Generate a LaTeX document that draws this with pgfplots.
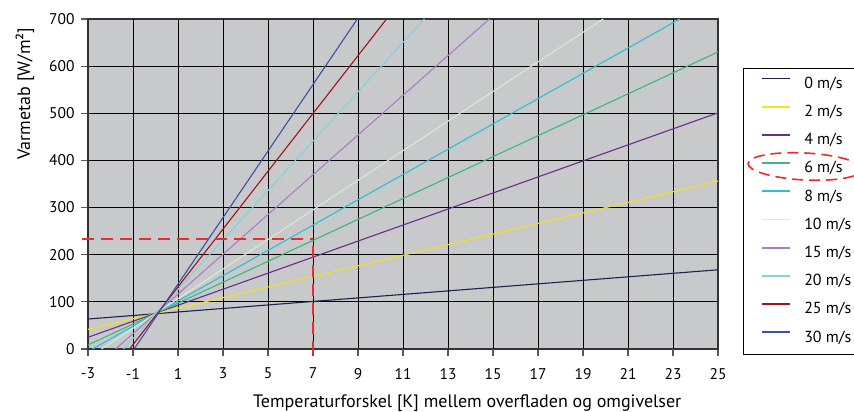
\documentclass[border=0pt]{standalone}
\usepackage{pgfplots}
\pgfplotsset{compat=1.18}
\usepackage{fontspec}
\setmainfont{PT Sans}

\definecolor{bggray}{HTML}{C8C9CB}
\definecolor{c0}{HTML}{1C2150}
\definecolor{c2}{HTML}{F2E31A}
\definecolor{c4}{HTML}{6A2D8C}
\definecolor{c6}{HTML}{3CB87A}
\definecolor{c8}{HTML}{2EC0CF}
\definecolor{c10}{HTML}{D7EBD6}
\definecolor{c15}{HTML}{AD7CC5}
\definecolor{c20}{HTML}{82D3DC}
\definecolor{c25}{HTML}{A3111B}
\definecolor{c30}{HTML}{3B50A8}
\definecolor{annot}{HTML}{EE2A2A}

\begin{document}
\begin{tikzpicture}
\path[use as bounding box] (0bp,0bp) rectangle (854bp,412bp);
\begin{axis}[
  at={(88bp,63bp)}, anchor=south west,
  width=630bp, height=330bp, scale only axis,
  xmin=-3, xmax=25, ymin=0, ymax=700,
  clip=false,
  axis background/.style={fill=bggray},
  xtick={-3,1,5,9,13,17,21,25},
  extra x ticks={-1,3,7,11,15,19,23},
  extra x tick style={grid style={black!55, line width=1.8bp}},
  ytick={0,100,...,700},
  grid=major,
  major grid style={black, line width=0.8bp},
  axis line style={black!80, line width=1.1bp},
  tick style={black!65, line width=1.2bp},
  major tick length=7bp,
  tick align=outside,
  xtick pos=bottom, ytick pos=left,
  /pgf/number format/assume math mode=true,
  tick label style={font=\fontsize{15.5bp}{18bp}\selectfont},
  xticklabel style={yshift=-8.5bp},
  yticklabel style={xshift=-3bp},
  xlabel={Temperaturforskel [K] mellem overfladen og omgivelser},
  ylabel={Varmetab [W/m²]},
  label style={font=\fontsize{18bp}{21bp}\selectfont},
  xlabel style={at={(axis description cs:0.602,-0.163)}, anchor=center},
  ylabel style={at={(axis description cs:-0.1,0.774)}, anchor=center},
  legend style={at={(axis description cs:1.0397,0.852)}, anchor=north west,
    draw=black, line width=0.9bp, fill=white,
    font=\fontsize{16bp}{19bp}\selectfont,
    inner xsep=18bp, inner ysep=8bp, row sep=12.2bp,
    nodes={inner sep=0bp, text height=12bp, text depth=4bp},
    /tikz/every odd column/.append style={column sep=13bp}},
  legend cell align=left,
  legend image code/.code={\draw[#1, line width=1.8bp] (0bp,5.8bp) -- (28bp,5.8bp);},
  every axis plot/.append style={line width=1.1bp},
]
\addplot[c0]  coordinates {(-3,63.6) (25,168)};
\addlegendentry{0 m/s}
\addplot[c2]  coordinates {(-3,41.7) (25,356)};
\addlegendentry{2 m/s}
\addplot[c4]  coordinates {(-3,24.8) (25,501)};
\addlegendentry{4 m/s}
\addplot[c6]  coordinates {(-3,8.5) (25,630)};
\addlegendentry{6 m/s}
\addplot[c8]  coordinates {(-2.8,0) (23.3,700)};
\addlegendentry{8 m/s}
\addplot[c10] coordinates {(-2.4,0) (19.9,700)};
\addlegendentry{10 m/s}
\addplot[c15] coordinates {(-1.77,0) (14.84,700)};
\addlegendentry{15 m/s}
\addplot[c20] coordinates {(-1.42,0) (11.95,700)};
\addlegendentry{20 m/s}
\addplot[c25] coordinates {(-1.15,0) (10.27,700)};
\addlegendentry{25 m/s}
\addplot[c30] coordinates {(-0.95,0) (8.97,700)};
\addlegendentry{30 m/s}
\draw[annot, line width=2bp, dash pattern=on 12bp off 7bp] (axis cs:-3.25,233) -- (axis cs:7,233);
\draw[annot, line width=2bp, dash pattern=on 12bp off 7bp] (axis cs:7,218) -- (axis cs:7,-13);
\end{axis}
\draw[annot, line width=1.6bp, dash pattern=on 11bp off 6bp, rotate around={-3:(805bp,245.5bp)}] (805bp,245.5bp) ellipse [x radius=57bp, y radius=13.5bp];
\end{tikzpicture}
\end{document}
